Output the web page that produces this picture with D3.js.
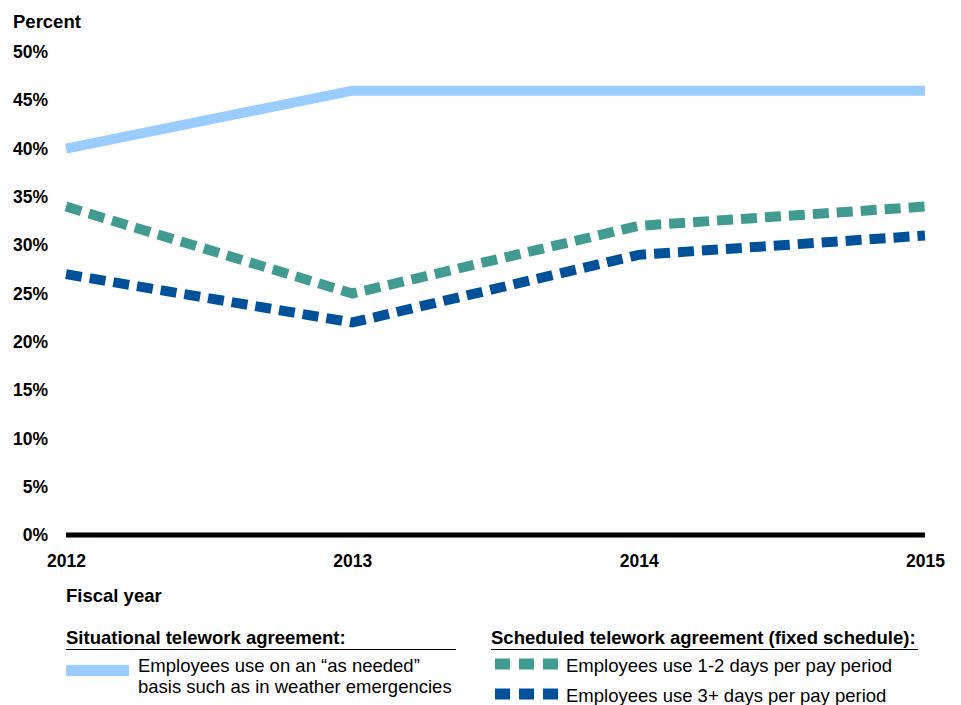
<!DOCTYPE html>
<html>
<head>
<meta charset="utf-8">
<script src="https://cdn.jsdelivr.net/npm/d3@7"></script>
<style>
  body { margin: 0; background: #fff; }
  text { font-family: "Liberation Sans", Arial, sans-serif; fill: #000; }
  .tick text { font-weight: bold; font-size: 17.5px; }
</style>
</head>
<body>
<div id="chart"></div>
<script>
const years = ['2012', '2013', '2014', '2015']
const yTicks = [0, 5, 10, 15, 20, 25, 30, 35, 40, 45, 50]
const situational = [40, 46, 46, 46]
const scheduled12 = [34, 25, 32, 34]
const scheduled3 = [27, 22, 29, 31]

const series = [
  { name: 'situational', values: situational, color: '#99ccff', dash: null },
  { name: 'scheduled12', values: scheduled12, color: '#429b91', dash: '16,8' },
  { name: 'scheduled3', values: scheduled3, color: '#00519a', dash: '16,8' }
]

const width = 961
const height = 705
const margin = { top: 52, left: 66, right: 36, bottom: 170 }

const svg = d3.select('#chart').append('svg')
  .attr('width', width)
  .attr('height', height)

const x = d3.scalePoint()
  .domain(years)
  .range([margin.left, width - margin.right])

const y = d3.scaleLinear()
  .domain([0, 50])
  .range([height - margin.bottom, margin.top])

// y axis labels only
const yAxis = svg.append('g')
  .attr('transform', `translate(${margin.left - 8}, 0)`)
  .call(d3.axisLeft(y).tickValues(yTicks).tickFormat(d => d + '%').tickSize(0).tickPadding(10))
yAxis.select('.domain').remove()

const xAxis = svg.append('g')
  .attr('transform', `translate(0, ${y(0) + 10})`)
  .call(d3.axisBottom(x).tickSize(0).tickPadding(10))
xAxis.select('.domain').remove()

svg.append('text')
  .attr('x', 13).attr('y', 28)
  .style('font-weight', 'bold').style('font-size', '18.5px')
  .text('Percent')

svg.append('text')
  .attr('x', margin.left).attr('y', 602)
  .style('font-weight', 'bold').style('font-size', '18.5px')
  .text('Fiscal year')

// baseline
svg.append('line')
  .attr('x1', x(years[0])).attr('x2', x(years[years.length - 1]))
  .attr('y1', y(0)).attr('y2', y(0))
  .attr('stroke', '#000').attr('stroke-width', 5)

const line = d3.line()
  .x((d, i) => x(years[i]))
  .y(d => y(d))

series.forEach(s => {
  svg.append('path')
    .datum(s.values)
    .attr('d', line)
    .attr('fill', 'none')
    .attr('stroke', s.color)
    .attr('stroke-width', 10)
    .attr('stroke-dasharray', s.dash)
})

// legend
const legendLeft = svg.append('g')
legendLeft.append('text')
  .attr('x', 66).attr('y', 644)
  .style('font-weight', 'bold').style('font-size', '18.5px')
  .text('Situational telework agreement:')
legendLeft.append('line')
  .attr('x1', 66).attr('x2', 456).attr('y1', 649.5).attr('y2', 649.5)
  .attr('stroke', '#000').attr('stroke-width', 1)
legendLeft.append('line')
  .attr('x1', 66).attr('x2', 129).attr('y1', 670.5).attr('y2', 670.5)
  .attr('stroke', series[0].color).attr('stroke-width', 11)
legendLeft.append('text')
  .attr('x', 138).attr('y', 672)
  .style('font-size', '18.5px')
  .text('Employees use on an \u201cas needed\u201d')
legendLeft.append('text')
  .attr('x', 138).attr('y', 693)
  .style('font-size', '18.5px')
  .text('basis such as in weather emergencies')

const legendRight = svg.append('g')
legendRight.append('text')
  .attr('x', 491).attr('y', 644)
  .style('font-weight', 'bold').style('font-size', '18.5px')
  .text('Scheduled telework agreement (fixed schedule):')
legendRight.append('line')
  .attr('x1', 491).attr('x2', 918).attr('y1', 649.5).attr('y2', 649.5)
  .attr('stroke', '#000').attr('stroke-width', 1)

const rightItems = [
  { s: series[1], label: 'Employees use 1-2 days per pay period', y: 664 },
  { s: series[2], label: 'Employees use 3+ days per pay period', y: 694 }
]
rightItems.forEach(item => {
  legendRight.append('line')
    .attr('x1', 495).attr('x2', 560).attr('y1', item.y).attr('y2', item.y)
    .attr('stroke', item.s.color).attr('stroke-width', 11)
    .attr('stroke-dasharray', '15,9')
  legendRight.append('text')
    .attr('x', 566).attr('y', item.y + 8)
    .style('font-size', '18.5px')
    .text(item.label)
})
</script>
</body>
</html>
